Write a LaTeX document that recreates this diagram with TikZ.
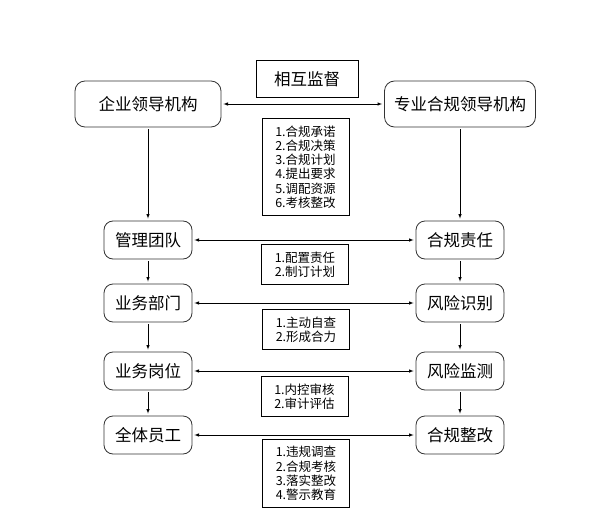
\documentclass[tikz,border=0pt]{standalone}
\usepackage{fontspec}
\newfontfamily\cjk{Noto Sans CJK SC}
\usepackage{xcolor}
\begin{document}
\begin{tikzpicture}[x=1pt,y=-1pt]
% Styles
\tikzstyle{fleche}=[->,>=latex,semithick,shorten >=2pt,shorten <=2pt]
\tikzstyle{organe}=[draw,thick,black!80,text=black,rounded corners=10pt,minimum height=46pt,font=\cjk\fontsize{16.5}{20}\selectfont]
\tikzstyle{etape}=[draw,thick,black!80,text=black,rounded corners=9pt,minimum width=88pt,minimum height=38pt,font=\cjk\fontsize{16.5}{20}\selectfont]
\tikzstyle{titre}=[draw,semithick,minimum width=102pt,minimum height=37pt,font=\cjk\fontsize{16.5}{20}\selectfont]
\tikzstyle{liste}=[draw,semithick,align=left,minimum width=87pt,inner ysep=7pt,font=\cjk\fontsize{12.5}{14.2}\selectfont]
% Dimensions
\def\ColG{148}
\def\ColD{460}
\def\NiveauA{104}
\def\NiveauB{240}
\def\NiveauC{303}
\def\NiveauD{371}
\def\NiveauE{435}
\useasboundingbox (0,0) rectangle (602,532);
% Noeuds
\node[organe,minimum width=146pt] (Dir) at (\ColG,\NiveauA) {企业领导机构};
\node[organe,minimum width=151pt] (DirConf) at (\ColD,\NiveauA) {专业合规领导机构};
\node[titre] (Mutuel) at (307,79) {相互监督};
\node[etape] (Equipe) at (\ColG,\NiveauB) {管理团队};
\node[etape] (Dept) at (\ColG,\NiveauC) {业务部门};
\node[etape] (Poste) at (\ColG,\NiveauD) {业务岗位};
\node[etape] (Emp) at (\ColG,\NiveauE) {全体员工};
\node[etape] (Resp) at (\ColD,\NiveauB) {合规责任};
\node[etape] (Ident) at (\ColD,\NiveauC) {风险识别};
\node[etape] (Surv) at (\ColD,\NiveauD) {风险监测};
\node[etape] (Rect) at (\ColD,\NiveauE) {合规整改};
\node[liste] (LA) at (305.5,167) {1.合规承诺\\2.合规决策\\3.合规计划\\4.提出要求\\5.调配资源\\6.考核整改};
\node[liste] (LB) at (305,264.5) {1.配置责任\\2.制订计划};
\node[liste] (LC) at (306,329.5) {1.主动自查\\2.形成合力};
\node[liste] (LD) at (304.5,396.5) {1.内控审核\\2.审计评估};
\node[liste] (LE) at (306,473.5) {1.违规调查\\2.合规考核\\3.落实整改\\4.警示教育};
% Arcs
\draw[fleche,<->] (Dir) -- (DirConf);
\draw[fleche,<->] (Equipe) -- (Resp);
\draw[fleche,<->] (Dept) -- (Ident);
\draw[fleche,<->] (Poste) -- (Surv);
\draw[fleche,<->] (Emp) -- (Rect);
\draw[fleche] (Dir) -- (Equipe);
\draw[fleche] (Equipe) -- (Dept);
\draw[fleche] (Dept) -- (Poste);
\draw[fleche] (Poste) -- (Emp);
\draw[fleche] (DirConf) -- (Resp);
\draw[fleche] (Resp) -- (Ident);
\draw[fleche] (Ident) -- (Surv);
\draw[fleche] (Surv) -- (Rect);
\end{tikzpicture}
\end{document}
